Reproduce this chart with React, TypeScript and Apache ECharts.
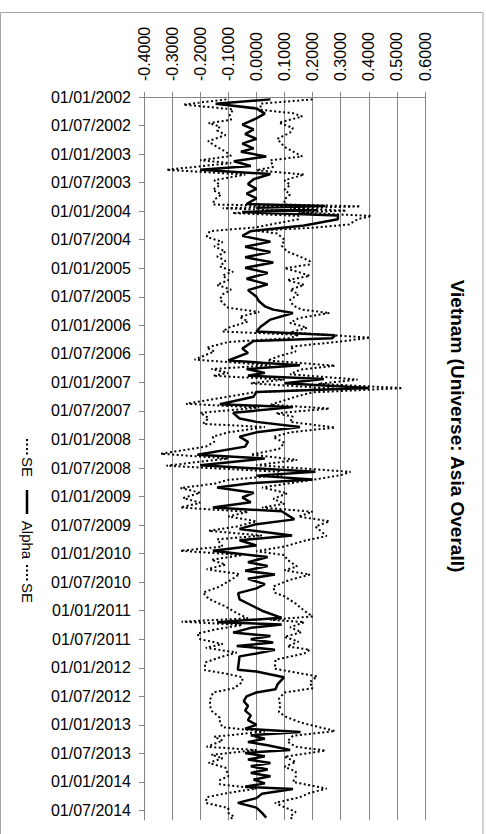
import React, { useEffect, useRef } from "react";
import * as echarts from "echarts";

// Month index: 0 = 01/01/2002, 6 = 01/07/2002, ...
const dateTicks = [
  "01/01/2002", "01/07/2002", "01/01/2003", "01/07/2003", "01/01/2004", "01/07/2004",
  "01/01/2005", "01/07/2005", "01/01/2006", "01/07/2006", "01/01/2007", "01/07/2007",
  "01/01/2008", "01/07/2008", "01/01/2009", "01/07/2009", "01/01/2010", "01/07/2010",
  "01/01/2011", "01/07/2011", "01/01/2012", "01/07/2012", "01/01/2013", "01/07/2013",
  "01/01/2014", "01/07/2014",
];
const tickMonths = dateTicks.map((_, i) => i * 6);
const lastMonth = 152;

// [month, value]
const alphaData: number[][] = [
  [0.5,0.05],[1.4,-0.145],[2.4,0.0],[3.5,0.03],[4.5,0.0],[5.8,-0.05],[6.8,-0.01],[7.8,-0.04],[8.8,0.0],[9.8,-0.05],
  [10.8,-0.01],[11.5,-0.055],[12.5,0.035],[13.5,-0.08],[14.5,-0.02],[15.3,-0.2],[16.2,0.05],[17.3,-0.01],[18.3,-0.03],[19.3,0.0],
  [20.3,-0.035],[21.3,0.0],[22.5,-0.035],[22.9,0.245],[23.3,0.0],[23.8,0.22],[24.2,-0.05],[24.9,0.29],[25.7,0.29],[27.0,0.17],
  [28.2,-0.02],[29.2,-0.05],[30.4,0.05],[31.5,-0.04],[32.6,0.05],[33.7,-0.04],[34.8,0.06],[35.9,-0.04],[37.0,0.04],[38.2,-0.035],
  [39.4,0.04],[40.6,-0.03],[42.0,0.0],[43.0,0.01],[44.0,0.03],
  [44.7,0.06],[45.4,0.13],[46.8,0.05],[48.3,0.015],[49.3,0.0],[50.1,0.28],[50.7,0.27],[51.3,-0.01],[52.9,-0.05],[53.8,-0.03],
  [55.4,-0.1],[56.4,0.155],[57.2,-0.035],[58.0,0.03],[58.6,-0.03],[59.3,0.24],[60.2,0.1],[61.2,0.40],[62.0,0.0],[63.0,-0.01],
  [64.6,-0.13],[65.2,0.13],[66.4,-0.083],[67.6,-0.06],[68.3,0.0],[69.4,0.155],[70.5,0.0],[71.4,-0.06],[72.5,-0.03],[73.5,-0.04],
  [75.2,-0.21],[76.0,0.03],[77.4,-0.2],[78.8,0.21],[79.6,0.0],[80.4,0.2],[81.2,-0.02],[82.1,-0.14],[83.2,-0.01],[84.2,-0.05],
  [85.2,-0.02],[86.3,-0.155],[87.1,0.09],[88.8,0.135],[89.8,0.0],[90.8,-0.06],[92.2,0.127],[93.2,-0.06],[94.3,0.0],[95.4,-0.155],
  [96.7,0.04],[97.8,-0.03],[98.6,0.04],[99.6,-0.04],[100.4,0.066],[101.3,-0.03],[102.4,0.03],[103.3,0.0],[104.3,-0.065],[105.6,-0.06],
  [106.8,-0.02],[108.0,0.02],[109.5,0.09],[110.4,-0.14],[110.9,0.09],[111.6,-0.02],[112.6,-0.083],[113.3,0.05],[114.0,-0.02],[114.7,0.06],
  [115.4,-0.07],[116.2,0.066],[117.0,0.0],[117.6,-0.06],[120.4,-0.066],[120.8,0.0],[122.0,0.098],[123.5,0.075],[124.5,0.068],[125.2,0.0],
  [126.0,-0.035],[127.0,-0.045],[128.0,-0.03],[129.0,-0.04],[130.0,-0.02],[131.0,-0.03],[132.0,0.0],[132.8,-0.04],[133.5,0.157],[134.2,-0.02],
  [134.9,0.03],[135.6,-0.03],[136.3,0.04],[137.3,0.12],[137.9,-0.04],[138.6,0.03],[139.3,-0.03],[140.0,0.05],[140.7,-0.02],[141.4,0.04],
  [142.1,-0.02],[142.8,0.05],[143.5,-0.01],[144.3,0.03],[145.0,-0.04],[145.5,0.13],[146.5,0.02],[147.4,0.0],[148.4,-0.066],[149.4,0.0],
  [150.5,0.02],[151.5,0.035],
];

const seUpperData: number[][] = [
  [0.5,0.2],[1.4,0.015],[2.7,0.015],[3.4,0.13],[4.1,0.163],[5.4,0.08],[6.5,0.13],[7.5,0.12],[8.8,0.074],[10.5,0.1],
  [12.5,0.163],[13.3,0.05],[14.7,0.06],[15.4,0.0],[16.3,0.17],[17.5,0.1],[18.5,0.12],[19.5,0.1],[20.5,0.12],[21.5,0.1],
  [22.6,0.1],[23.0,0.37],[23.4,0.12],[23.9,0.32],[24.3,0.15],[25.0,0.41],[25.7,0.36],[26.8,0.33],[27.5,0.2],[28.1,0.0],
  [28.7,0.074],[30.0,0.1],[31.3,0.09],[32.5,0.11],[33.6,0.157],[34.5,0.19],[35.2,0.19],[36.0,0.1],[36.8,0.15],[37.6,0.19],
  [38.5,0.11],[39.5,0.17],[40.5,0.12],[41.5,0.15],[42.6,0.12],[43.8,0.13],[44.7,0.16],[45.4,0.26],[46.5,0.15],[47.5,0.12],
  [48.5,0.18],[49.5,0.12],[50.6,0.405],[51.4,0.3],[52.5,0.12],[53.5,0.14],[54.5,0.08],[55.4,0.04],[56.5,0.28],[57.3,0.157],
  [58.3,0.12],[59.4,0.36],[60.3,0.22],[61.2,0.52],[62.1,0.2],[63.0,0.14],[64.7,0.05],[65.5,0.26],[66.5,0.07],[67.2,0.13],
  [68.3,0.12],[69.5,0.28],[70.5,0.12],[71.5,0.06],[72.7,0.1],[74.0,0.08],[75.2,-0.02],[76.3,0.145],[77.4,0.0],[78.8,0.335],
  [79.5,0.3],[80.5,0.2],[81.2,0.12],[82.1,0.02],[83.3,0.11],[84.5,0.06],[85.5,0.1],[86.3,0.02],[87.2,0.2],[88.2,0.15],
  [89.2,0.26],[90.3,0.21],[91.3,0.23],[92.3,0.25],[93.3,0.17],[94.5,0.1],[95.5,0.0],[96.3,0.1],[97.3,0.11],[98.7,0.145],
  [99.5,0.1],[100.4,0.19],[101.5,0.12],[102.9,0.06],[104.2,0.065],[105.0,0.1],[106.5,0.14],[108.0,0.17],[109.2,0.2],[109.9,0.05],
  [110.4,0.17],[111.5,0.12],[112.5,0.16],[113.5,0.1],[114.5,0.15],[115.5,0.11],[116.2,0.19],[117.0,0.17],[118.3,0.068],[120.2,0.065],
  [121.8,0.216],[123.0,0.19],[124.3,0.2],[125.2,0.1],[126.5,0.08],[128.0,0.085],[129.3,0.08],[130.3,0.105],[131.5,0.157],[133.3,0.28],
  [134.3,0.13],[135.5,0.11],[136.6,0.14],[137.4,0.246],[138.7,0.1],[139.8,0.14],[140.8,0.1],[141.8,0.14],[142.9,0.14],[144.0,0.13],
  [145.4,0.25],[146.3,0.19],[147.3,0.15],[148.4,0.066],[149.3,0.1],[150.3,0.14],[151.3,0.12],[152.0,0.13],
];

const seLowerData: number[][] = [
  [0.5,-0.107],[1.6,-0.26],[2.6,-0.083],[3.8,-0.095],[4.8,-0.09],[5.5,-0.17],[6.2,-0.13],[7.0,-0.14],[8.0,-0.11],[9.3,-0.172],
  [10.5,-0.14],[11.5,-0.11],[12.4,-0.09],[13.3,-0.2],[13.9,-0.09],[15.3,-0.32],[16.3,-0.04],[17.5,-0.15],[18.5,-0.13],[19.5,-0.155],
  [20.5,-0.125],[21.6,-0.15],[22.6,-0.155],[22.9,0.13],[23.4,-0.12],[23.9,0.1],[24.4,-0.085],[25.0,0.15],[25.7,0.15],[26.8,0.05],
  [27.4,0.0],[28.2,-0.166],[29.4,-0.177],[30.5,-0.12],[31.4,-0.15],[32.5,-0.11],[33.5,-0.14],[34.5,-0.11],[35.6,-0.13],[36.7,-0.083],
  [37.5,-0.12],[38.5,-0.1],[39.5,-0.14],[40.5,-0.09],[41.5,-0.12],[42.5,-0.13],[43.3,-0.12],[44.3,-0.1],[45.2,0.01],[46.2,-0.06],
  [47.2,-0.03],[48.5,-0.1],[49.3,-0.12],[50.0,0.15],[50.7,0.12],[51.5,-0.1],[52.7,-0.177],[53.5,-0.15],[55.2,-0.22],[56.4,0.05],
  [57.2,-0.16],[58.0,-0.1],[58.6,-0.154],[59.4,0.1],[60.2,-0.02],[61.3,0.28],[62.1,-0.01],[63.0,-0.1],[64.5,-0.25],[65.3,0.01],
  [66.4,-0.2],[67.5,-0.17],[68.7,-0.19],[69.4,0.03],[70.5,-0.1],[71.4,-0.155],[72.5,-0.15],[73.5,-0.18],[75.0,-0.34],[76.0,-0.1],
  [77.5,-0.32],[78.8,0.08],[79.5,0.09],[80.5,-0.1],[81.3,-0.15],[82.2,-0.27],[83.2,-0.2],[84.3,-0.26],[85.3,-0.2],[86.3,-0.27],
  [87.2,-0.03],[88.2,-0.1],[89.2,0.0],[90.3,-0.07],[91.2,-0.17],[92.2,0.02],[93.0,-0.14],[94.5,-0.12],[95.4,-0.27],[96.3,-0.05],
  [97.3,-0.16],[98.3,-0.11],[99.3,-0.177],[100.3,-0.06],[101.5,-0.09],[102.9,-0.13],[104.2,-0.19],[105.5,-0.17],[107.1,-0.11],[108.5,-0.07],
  [109.6,-0.03],[110.3,-0.266],[111.0,-0.05],[112.0,-0.15],[112.8,-0.21],[114.0,-0.2],[115.0,-0.12],[115.8,-0.18],[116.8,-0.07],[117.8,-0.13],
  [118.9,-0.183],[120.5,-0.183],[121.2,-0.11],[122.0,-0.05],[123.0,-0.05],[124.3,-0.08],[125.2,-0.154],[126.7,-0.165],[128.0,-0.165],[129.0,-0.16],
  [130.5,-0.13],[131.5,-0.13],[132.5,-0.12],[133.4,0.03],[134.5,-0.15],[135.3,-0.12],[136.6,-0.177],[137.3,0.0],[138.3,-0.16],[139.0,-0.12],
  [140.0,-0.17],[141.0,-0.11],[141.8,-0.105],[142.8,-0.1],[143.6,-0.13],[144.5,-0.13],[145.4,0.0],[146.3,-0.1],[147.2,-0.177],[148.4,-0.18],
  [149.5,-0.1],[150.5,-0.1],[151.3,-0.08],[152.0,-0.1],
];

const titleText = "Vietnam (Universe: Asia Overall)";
const FONT = "'Liberation Sans', Arial, sans-serif";
const GRID = "#868686";

export default function App() {
  const ref = useRef<HTMLDivElement>(null);

  useEffect(() => {
    document.body.style.margin = "0";
    if (!ref.current) return;
    const chart = echarts.init(ref.current, undefined, { renderer: "svg" });
    const toXY = (d: number[][]) => d.map(([m, v]) => [v, m]);
    const rot = -Math.PI / 2;

    chart.setOption({
      animation: false,
      backgroundColor: "#fff",
      grid: { left: 144, top: 97, right: 61, bottom: 14, containLabel: false },
      xAxis: {
        type: "value",
        position: "top",
        min: -0.4,
        max: 0.6,
        interval: 0.1,
        axisLine: { show: true, onZero: false, lineStyle: { color: GRID, width: 1 } },
        axisTick: { show: true, length: 5, lineStyle: { color: GRID } },
        axisLabel: {
          rotate: -90,
          margin: 16,
          fontSize: 16,
          fontFamily: FONT,
          color: "#000",
          formatter: (v: number) => (Math.abs(v) < 1e-9 ? "0.0000" : v.toFixed(4)),
        },
        splitLine: { show: true, lineStyle: { color: GRID, width: 1 } },
      },
      yAxis: {
        type: "value",
        min: 0,
        max: lastMonth,
        interval: 6,
        inverse: true,
        axisLine: { show: true, onZero: false, lineStyle: { color: GRID, width: 1 } },
        axisTick: { show: true, length: 5, lineStyle: { color: GRID }, customValues: tickMonths },
        axisLabel: {
          customValues: tickMonths,
          margin: 13,
          fontSize: 16,
          fontFamily: FONT,
          color: "#000",
          padding: [6, 0, 0, 0],
          formatter: (v: number) => {
            const i = Math.round(v / 6);
            return Math.abs(v - i * 6) < 1e-6 && dateTicks[i] ? dateTicks[i] : "";
          },
        },
        splitLine: { show: false },
      },
      series: [
        {
          name: "SE",
          type: "line",
          data: toXY(seUpperData),
          symbol: "none",
          lineStyle: { color: "#000", width: 2, type: [2, 2.5] },
          z: 2,
        },
        {
          name: "Alpha",
          type: "line",
          data: toXY(alphaData),
          symbol: "none",
          lineStyle: { color: "#000", width: 2.5 },
          z: 3,
        },
        {
          name: "SE ",
          type: "line",
          data: toXY(seLowerData),
          symbol: "none",
          lineStyle: { color: "#000", width: 2, type: [2, 2.5] },
          z: 2,
        },
      ],
      graphic: [
        {
          type: "rect",
          shape: { x: 0.5, y: 12.5, width: 482.5, height: 900 },
          style: { fill: "none", stroke: "#a6a6a6", lineWidth: 1 },
          silent: true,
        },
        {
          type: "text",
          x: 457,
          y: 426,
          rotation: rot,
          style: {
            text: titleText,
            font: `bold 19px ${FONT}`,
            fill: "#000",
            textAlign: "center",
            textVerticalAlign: "middle",
          },
        },
        {
          type: "line",
          shape: { x1: 27, y1: 439, x2: 27, y2: 457 },
          style: { stroke: "#000", lineWidth: 2, lineDash: [2, 2.5] },
        },
        {
          type: "text",
          x: 27,
          y: 467,
          rotation: rot,
          style: { text: "SE", font: `15px ${FONT}`, fill: "#000", textAlign: "center", textVerticalAlign: "middle" },
        },
        {
          type: "line",
          shape: { x1: 27, y1: 490, x2: 27, y2: 514 },
          style: { stroke: "#000", lineWidth: 2.5 },
        },
        {
          type: "text",
          x: 27,
          y: 540,
          rotation: rot,
          style: { text: "Alpha", font: `15px ${FONT}`, fill: "#000", textAlign: "center", textVerticalAlign: "middle" },
        },
        {
          type: "line",
          shape: { x1: 27, y1: 565, x2: 27, y2: 583 },
          style: { stroke: "#000", lineWidth: 2, lineDash: [2, 2.5] },
        },
        {
          type: "text",
          x: 27,
          y: 593,
          rotation: rot,
          style: { text: "SE", font: `15px ${FONT}`, fill: "#000", textAlign: "center", textVerticalAlign: "middle" },
        },
      ],
    });

    return () => chart.dispose();
  }, []);

  return <div ref={ref} style={{ width: 486, height: 834 }} />;
}
